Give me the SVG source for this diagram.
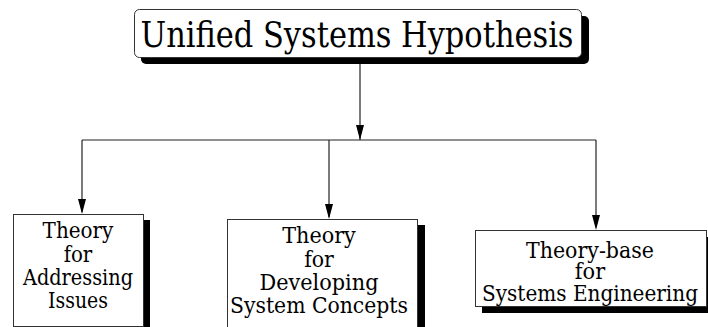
<svg xmlns="http://www.w3.org/2000/svg" width="708" height="327" viewBox="0 0 708 327">
<defs>
<style>
.box{fill:#fff;stroke:#333;stroke-width:1}
.sh{fill:#000}
text{font-family:'DejaVu Serif',serif;fill:#000;text-anchor:middle}
.c{stroke:#222;stroke-width:1.2;fill:none}
.a{fill:#000}
</style>
</defs>
<rect width="708" height="327" fill="#fff"/>
<g id="connectors">
<line class="c" x1="360" y1="64" x2="360" y2="140"/>
<line class="c" x1="82" y1="140" x2="596" y2="140"/>
<line class="c" x1="82" y1="140" x2="82" y2="212"/>
<line class="c" x1="329" y1="140" x2="329" y2="217"/>
<line class="c" x1="596" y1="140" x2="596" y2="227"/>
<polygon class="a" points="356,125 364,125 360,140"/>
<polygon class="a" points="78,199 86,199 82,214"/>
<polygon class="a" points="325,204 333,204 329,219"/>
<polygon class="a" points="592,215 600,215 596,230"/>
</g>
<g id="top">
<rect class="sh" x="141" y="16" width="448" height="48" rx="5"/>
<rect class="box" x="134.5" y="9.5" width="447" height="48" rx="5"/>
<text x="357" y="47" font-size="35" textLength="433" lengthAdjust="spacingAndGlyphs">Unified Systems Hypothesis</text>
</g>
<g id="left">
<rect class="sh" x="20" y="220" width="130" height="112"/>
<rect class="box" x="13.5" y="214.5" width="130" height="112"/>
<text font-size="22"><tspan x="78" y="238" textLength="70.8" lengthAdjust="spacingAndGlyphs">Theory</tspan></text>
<text font-size="22"><tspan x="78" y="262" textLength="28.6" lengthAdjust="spacingAndGlyphs">for</tspan></text>
<text font-size="22"><tspan x="78" y="285" textLength="110" lengthAdjust="spacingAndGlyphs">Addressing</tspan></text>
<text font-size="22"><tspan x="78" y="308" textLength="59.9" lengthAdjust="spacingAndGlyphs">Issues</tspan></text>
</g>
<g id="middle">
<rect class="sh" x="234" y="225" width="191" height="110"/>
<rect class="box" x="227.5" y="219.5" width="190" height="110"/>
<text font-size="22.5"><tspan x="319" y="243" textLength="73.6" lengthAdjust="spacingAndGlyphs">Theory</tspan></text>
<text font-size="22.5"><tspan x="319" y="267" textLength="29.7" lengthAdjust="spacingAndGlyphs">for</tspan></text>
<text font-size="22.5"><tspan x="319" y="290" textLength="119" lengthAdjust="spacingAndGlyphs">Developing</tspan></text>
<text font-size="22.5"><tspan x="319" y="313" textLength="178" lengthAdjust="spacingAndGlyphs">System Concepts</tspan></text>
</g>
<g id="right">
<rect class="sh" x="482" y="237" width="232" height="76"/>
<rect class="box" x="475.5" y="230.5" width="231" height="76"/>
<text font-size="22.5"><tspan x="590" y="258" textLength="128" lengthAdjust="spacingAndGlyphs">Theory-base</tspan></text>
<text font-size="22.5"><tspan x="590" y="279" textLength="30.3" lengthAdjust="spacingAndGlyphs">for</tspan></text>
<text font-size="22.5"><tspan x="590" y="301" textLength="216" lengthAdjust="spacingAndGlyphs">Systems Engineering</tspan></text>
</g>
</svg>
